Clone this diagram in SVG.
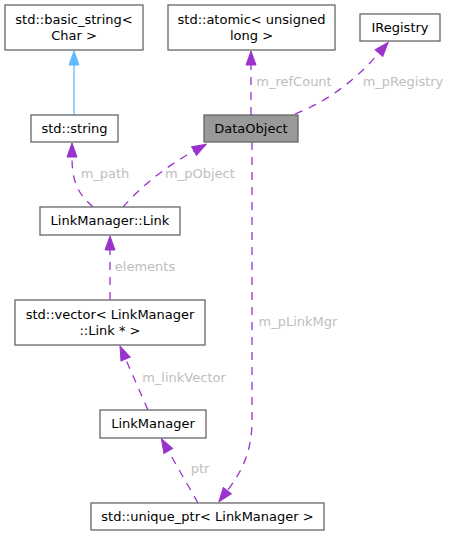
<svg xmlns="http://www.w3.org/2000/svg" width="450" height="536" viewBox="0 0 450 536">
<defs>
<style>
.node rect{fill:#ffffff;stroke:#666666;stroke-width:1.3}
.node.hl rect{fill:#999999}
text{font-family:"DejaVu Sans","Liberation Sans",sans-serif;font-size:13px}
.node text{fill:#000000;text-anchor:middle}
.edge path{fill:none;stroke:#9a32cd;stroke-width:1.3;stroke-dasharray:8,7}
.edge.inh path{stroke:#63b8ff;stroke-dasharray:none}
.edge text{fill:#bebebe;text-anchor:middle}
</style>
<marker id="ap" markerUnits="userSpaceOnUse" markerWidth="16" markerHeight="12" refX="0" refY="5.5" orient="auto" viewBox="0 0 16 11" overflow="visible">
<path d="M0,0.5 L14,5.5 L0,10.5 z" fill="#9a32cd" stroke="#9a32cd" stroke-width="1"/>
</marker>
<marker id="ab" markerUnits="userSpaceOnUse" markerWidth="16" markerHeight="12" refX="0" refY="5.5" orient="auto" viewBox="0 0 16 11" overflow="visible">
<path d="M0,0.5 L14,5.5 L0,10.5 z" fill="#63b8ff" stroke="#63b8ff" stroke-width="1"/>
</marker>
</defs>
<rect width="450" height="536" fill="#ffffff"/>

<g id="edges">
<g class="edge inh"><path d="M74,115 L74,65" marker-end="url(#ab)"/></g>
<g class="edge"><path d="M251,115 L251,65" marker-end="url(#ap)"/><text x="294" y="86">m_refCount</text></g>
<g class="edge"><path d="M295,114 C325,102 352,84 379,53" marker-end="url(#ap)"/><text x="403" y="86">m_pRegistry</text></g>
<g class="edge"><path d="M93,207 C80,195 72,185 72,157" marker-end="url(#ap)"/><text x="105" y="178">m_path</text></g>
<g class="edge"><path d="M123,207 C138,190 160,170 194,151" marker-end="url(#ap)"/><text x="200" y="178">m_pObject</text></g>
<g class="edge"><path d="M110,300 L110,250" marker-end="url(#ap)"/><text x="145" y="271">elements</text></g>
<g class="edge"><path d="M148,410 L125.6,359" marker-end="url(#ap)"/><text x="184" y="382">m_linkVector</text></g>
<g class="edge"><path d="M198,503 L168.3,451" marker-end="url(#ap)"/><text x="200" y="473">ptr</text></g>
<g class="edge"><path d="M252,142 L252,420 C252,450 243,470 227.3,490.7" marker-end="url(#ap)"/><text x="298" y="326">m_pLinkMgr</text></g>
</g>

<g id="node-basic_string" class="node"><rect x="5" y="5" width="138" height="45"/><text x="74" y="24">std::basic_string&lt;</text><text x="74" y="40">Char &gt;</text></g>
<g id="node-atomic" class="node"><rect x="168" y="5" width="167" height="45"/><text x="251.5" y="24">std::atomic&lt; unsigned</text><text x="251.5" y="40">long &gt;</text></g>
<g id="node-IRegistry" class="node"><rect x="360" y="14" width="80" height="27"/><text x="400" y="32">IRegistry</text></g>
<g id="node-string" class="node"><rect x="31" y="115" width="87" height="27"/><text x="74.5" y="133">std::string</text></g>
<g id="node-DataObject" class="node hl"><rect x="204" y="115" width="94" height="27"/><text x="251" y="133">DataObject</text></g>
<g id="node-Link" class="node"><rect x="40" y="207" width="140" height="28"/><text x="110" y="225">LinkManager::Link</text></g>
<g id="node-vector" class="node"><rect x="15" y="300" width="190" height="45"/><text x="110" y="319">std::vector&lt; LinkManager</text><text x="110" y="335">::Link * &gt;</text></g>
<g id="node-LinkManager" class="node"><rect x="100" y="410" width="106" height="28"/><text x="153" y="428">LinkManager</text></g>
<g id="node-unique_ptr" class="node"><rect x="91" y="503" width="233" height="27"/><text x="207.5" y="521">std::unique_ptr&lt; LinkManager &gt;</text></g>
</svg>
